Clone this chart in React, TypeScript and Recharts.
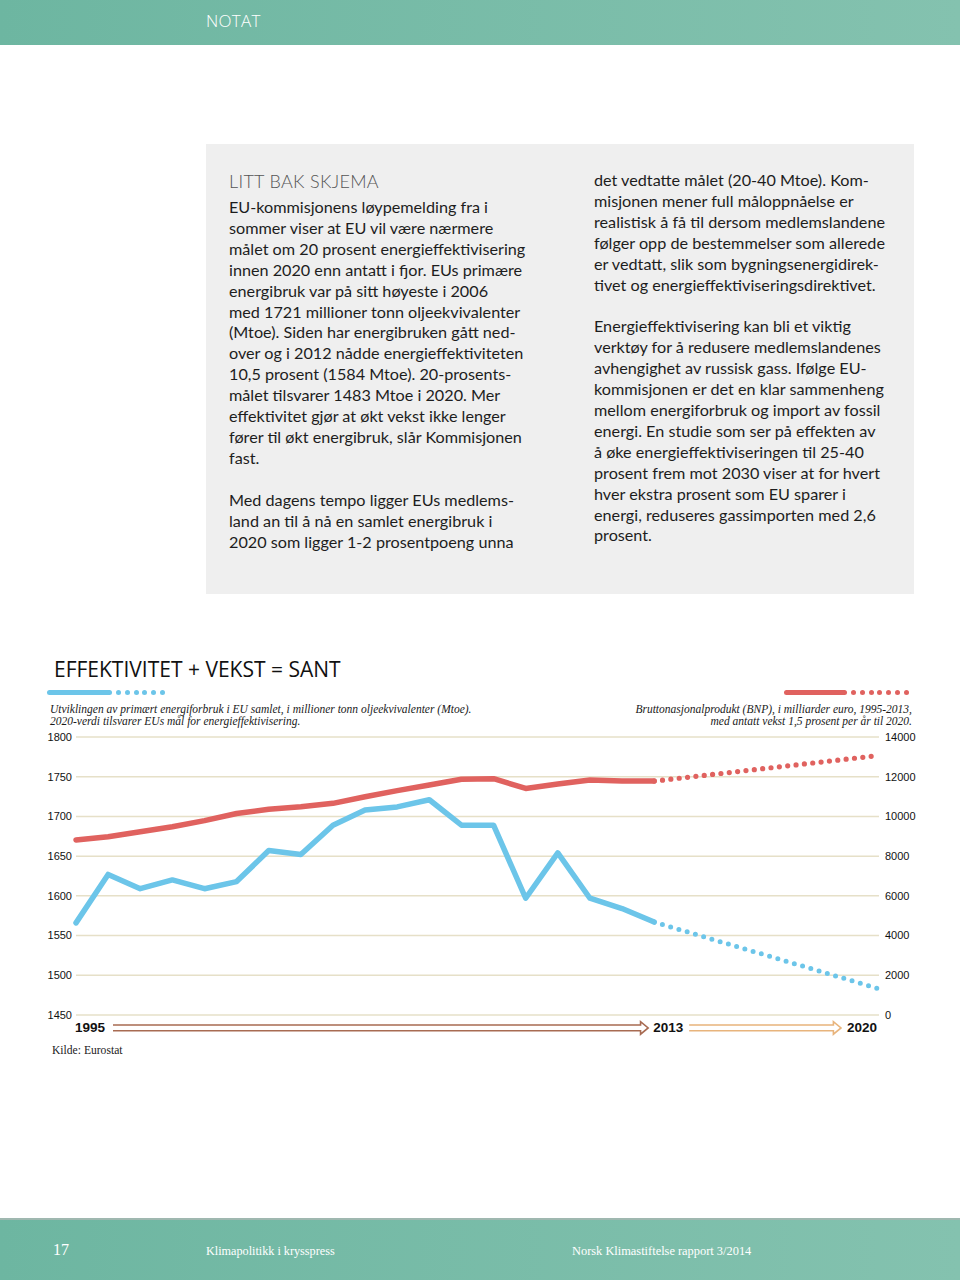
import React from "react";
import {
  LineChart,
  Line,
  XAxis,
  YAxis,
  CartesianGrid,
  ReferenceLine,
} from "recharts";

// EU primary energy (Mtoe) and GDP (bn euro), 1995-2013
const years = [
  1995, 1996, 1997, 1998, 1999, 2000, 2001, 2002, 2003, 2004, 2005, 2006,
  2007, 2008, 2009, 2010, 2011, 2012, 2013,
];
const energy = [
  1566, 1627, 1609, 1620, 1609, 1618, 1657, 1652, 1689, 1708, 1712, 1721,
  1689, 1689, 1597, 1654, 1597, 1584, 1567,
];
const gdp = [
  8810, 8980, 9230, 9480, 9790, 10150, 10360, 10490, 10660, 10990, 11300,
  11580, 11870, 11900, 11410, 11630, 11830, 11780, 11780,
];

// projection 2013 -> 2020
const projYears = [2013, 2020];
const energyTarget = [1567, 1483];
const gdpForecast = [11780, 13070];

const energyTicks = [1450, 1500, 1550, 1600, 1650, 1700, 1750, 1800];
const gdpTicks = [0, 2000, 4000, 6000, 8000, 10000, 12000, 14000];
const yearTicks = [1995, 2013, 2020];

const BLUE = "#6cc5e9";
const RED = "#e0625f";
const GRID = "#e6e0c8";

const rows: any[] = years.map((year, i) => ({ year, energy: energy[i], gdp: gdp[i] }));
projYears.forEach((year, i) => {
  let row = rows.find((r) => r.year === year);
  if (!row) {
    row = { year };
    rows.push(row);
  }
  row.energyProj = energyTarget[i];
  row.gdpProj = gdpForecast[i];
});

const axisFont = "'Liberation Sans', Arial, sans-serif";
const serif = "'Liberation Serif', 'Times New Roman', serif";

const YearTick = (props: any) => {
  const { x, y, payload } = props;
  const last = payload.value === 2020;
  return (
    <text
      x={last ? x - 2 : x - 1}
      y={y}
      dy={17}
      textAnchor={last ? "end" : "start"}
      fontFamily={axisFont}
      fontWeight={700}
      fontSize={13.5}
      fill="#111"
    >
      {payload.value}
    </text>
  );
};

const DoubleArrow = (props: any) => {
  const { x1, x2, y1, color, padL, padR } = props;
  const xs = x1 + padL;
  const tip = x2 - padR;
  const xb = tip - 7.6;
  const y = y1 + 12.9;
  const d = `M${xs},${y - 2.9} L${xb},${y - 2.9} L${xb},${y - 6.3} L${tip},${y} L${xb},${y + 6.3} L${xb},${y + 2.9} L${xs},${y + 2.9}`;
  return <path d={d} fill="none" stroke={color} strokeWidth={1.6} />;
};

const Pill = ({ left, width, color }: any) => (
  <div
    style={{
      position: "absolute",
      left,
      top: 689.5,
      width,
      height: 5,
      borderRadius: 3,
      background: color,
    }}
  />
);

const Dots = ({ left, count, color }: any) => (
  <div style={{ position: "absolute", left, top: 689.5, display: "flex", gap: 3.8 }}>
    {Array.from({ length: count }).map((_, i) => (
      <div key={i} style={{ width: 5, height: 5, borderRadius: 3, background: color }} />
    ))}
  </div>
);

const bodyText: React.CSSProperties = {
  position: "absolute",
  fontFamily: "Lato, sans-serif",
  fontSize: 16.2,
  lineHeight: "20.9px",
  color: "#1d1d1d",
  whiteSpace: "nowrap",
};

const caption: React.CSSProperties = {
  position: "absolute",
  top: 703,
  fontFamily: serif,
  fontStyle: "italic",
  fontSize: 11.5,
  lineHeight: "12px",
  color: "#1a1a1a",
  whiteSpace: "nowrap",
};

export default function App() {
  return (
    <div
      style={{
        position: "absolute",
        left: 0,
        top: 0,
        width: 960,
        height: 1280,
        background: "#fff",
        overflow: "hidden",
      }}
    >
      {/* header */}
      <div
        style={{
          position: "absolute",
          left: 0,
          top: 0,
          width: 960,
          height: 45,
          background: "linear-gradient(90deg, #6db6a1, #84c2af)",
        }}
      />
      <div
        style={{
          position: "absolute",
          left: 206,
          top: 9,
          color: "#fff",
          fontFamily: "'Open Sans', sans-serif",
          fontWeight: 300,
          fontSize: 17,
          letterSpacing: 0.3,
        }}
      >
        NOTAT
      </div>

      {/* text box */}
      <div
        style={{
          position: "absolute",
          left: 206,
          top: 144,
          width: 708,
          height: 450,
          background: "#efefef",
        }}
      />
      <div
        style={{
          position: "absolute",
          left: 229,
          top: 170,
          fontFamily: "Lato, sans-serif",
          fontWeight: 300,
          fontSize: 18,
          color: "#555",
          letterSpacing: 0.3,
        }}
      >
        LITT BAK SKJEMA
      </div>
      <div style={{ ...bodyText, left: 229, top: 197 }}>
        EU-kommisjonens løypemelding fra i<br />
        sommer viser at EU vil være nærmere<br />
        målet om 20 prosent energieffektivisering<br />
        innen 2020 enn antatt i fjor. EUs primære<br />
        energibruk var på sitt høyeste i 2006<br />
        med 1721 millioner tonn oljeekvivalenter<br />
        (Mtoe). Siden har energibruken gått ned-<br />
        over og i 2012 nådde energieffektiviteten<br />
        10,5 prosent (1584 Mtoe). 20-prosents-<br />
        målet tilsvarer 1483 Mtoe i 2020. Mer<br />
        effektivitet gjør at økt vekst ikke lenger<br />
        fører til økt energibruk, slår Kommisjonen<br />
        fast.<br />
        <br />
        Med dagens tempo ligger EUs medlems-<br />
        land an til å nå en samlet energibruk i<br />
        2020 som ligger 1-2 prosentpoeng unna
      </div>
      <div style={{ ...bodyText, left: 594, top: 170 }}>
        det vedtatte målet (20-40 Mtoe). Kom-<br />
        misjonen mener full måloppnåelse er<br />
        realistisk å få til dersom medlemslandene<br />
        følger opp de bestemmelser som allerede<br />
        er vedtatt, slik som bygningsenergidirek-<br />
        tivet og energieffektiviseringsdirektivet.<br />
        <br />
        Energieffektivisering kan bli et viktig<br />
        verktøy for å redusere medlemslandenes<br />
        avhengighet av russisk gass. Ifølge EU-<br />
        kommisjonen er det en klar sammenheng<br />
        mellom energiforbruk og import av fossil<br />
        energi. En studie som ser på effekten av<br />
        å øke energieffektiviseringen til 25-40<br />
        prosent frem mot 2030 viser at for hvert<br />
        hver ekstra prosent som EU sparer i<br />
        energi, reduseres gassimporten med 2,6<br />
        prosent.
      </div>

      {/* chart heading */}
      <div
        style={{
          position: "absolute",
          left: 54,
          top: 655,
          fontFamily: "'Open Sans', sans-serif",
          fontSize: 21,
          color: "#111",
        }}
      >
        EFFEKTIVITET + VEKST = SANT
      </div>
      <Pill left={47} width={65} color={BLUE} />
      <Dots left={116} count={6} color={BLUE} />
      <Pill left={784} width={63} color={RED} />
      <Dots left={851} count={7} color={RED} />
      <div style={{ ...caption, left: 50 }}>
        Utviklingen av primært energiforbruk i EU samlet, i millioner tonn oljeekvivalenter (Mtoe).
        <br />
        2020-verdi tilsvarer EUs mål for energieffektivisering.
      </div>
      <div style={{ ...caption, right: 960 - 912, textAlign: "right" }}>
        Bruttonasjonalprodukt (BNP), i milliarder euro, 1995-2013,
        <br />
        med antatt vekst 1,5 prosent per år til 2020.
      </div>

      <div style={{ position: "absolute", left: 0, top: 727 }}>
        <LineChart
          width={960}
          height={330}
          data={rows}
          margin={{ top: 10, right: 0, bottom: 0, left: 0 }}
        >
          <CartesianGrid
            yAxisId="energy"
            vertical={false}
            stroke={GRID}
            strokeWidth={1.5}
          />
          <XAxis
            dataKey="year"
            type="number"
            domain={[1995, 2020]}
            ticks={yearTicks}
            axisLine={false}
            tickLine={false}
            tickSize={0}
            tickMargin={0}
            height={42}
            tick={<YearTick />}
            interval={0}
          />
          <YAxis
            yAxisId="energy"
            orientation="left"
            domain={[1450, 1800]}
            ticks={energyTicks}
            width={76}
            axisLine={false}
            tickLine={false}
            tickSize={0}
            tickMargin={4}
            interval={0}
            tick={{ fontFamily: axisFont, fontSize: 11, fill: "#111" }}
          />
          <YAxis
            yAxisId="gdp"
            orientation="right"
            domain={[0, 14000]}
            ticks={gdpTicks}
            width={81}
            axisLine={false}
            tickLine={false}
            tickSize={0}
            tickMargin={6}
            interval={0}
            tick={{ fontFamily: axisFont, fontSize: 11, fill: "#111" }}
          />
          <ReferenceLine
            yAxisId="energy"
            ifOverflow="visible"
            segment={[
              { x: 1995, y: 1450 },
              { x: 2013, y: 1450 },
            ]}
            shape={(p: any) => <DoubleArrow {...p} color="#a86b52" padL={37} padR={6} />}
          />
          <ReferenceLine
            yAxisId="energy"
            ifOverflow="visible"
            segment={[
              { x: 2013, y: 1450 },
              { x: 2020, y: 1450 },
            ]}
            shape={(p: any) => <DoubleArrow {...p} color="#e8b47c" padL={35} padR={38} />}
          />
          <Line
            yAxisId="energy"
            dataKey="energy"
            stroke={BLUE}
            strokeWidth={5.5}
            strokeLinecap="round"
            strokeLinejoin="round"
            dot={false}
            activeDot={false}
            isAnimationActive={false}
          />
          <Line
            yAxisId="energy"
            dataKey="energyProj"
            stroke={BLUE}
            strokeWidth={5}
            strokeDasharray="0 8.6"
            strokeLinecap="round"
            dot={false}
            activeDot={false}
            isAnimationActive={false}
          />
          <Line
            yAxisId="gdp"
            dataKey="gdp"
            stroke={RED}
            strokeWidth={5.5}
            strokeLinecap="round"
            strokeLinejoin="round"
            dot={false}
            activeDot={false}
            isAnimationActive={false}
          />
          <Line
            yAxisId="gdp"
            dataKey="gdpProj"
            stroke={RED}
            strokeWidth={5.2}
            strokeDasharray="0 8.4"
            strokeLinecap="round"
            dot={false}
            activeDot={false}
            isAnimationActive={false}
          />
        </LineChart>
      </div>

      <div
        style={{
          position: "absolute",
          left: 52,
          top: 1044,
          fontFamily: serif,
          fontSize: 11.6,
          color: "#222",
        }}
      >
        Kilde: Eurostat
      </div>

      {/* footer */}
      <div
        style={{
          position: "absolute",
          left: 0,
          top: 1218,
          width: 960,
          height: 2,
          background: "#9fb8b0",
        }}
      />
      <div
        style={{
          position: "absolute",
          left: 0,
          top: 1220,
          width: 960,
          height: 60,
          background: "linear-gradient(90deg, #6db6a1, #84c2af)",
          color: "#fff",
          fontFamily: serif,
        }}
      >
        <div style={{ position: "absolute", left: 53, top: 21, fontSize: 16 }}>17</div>
        <div style={{ position: "absolute", left: 206, top: 24, fontSize: 12.2 }}>
          Klimapolitikk i krysspress
        </div>
        <div style={{ position: "absolute", left: 572, top: 24, fontSize: 12.4 }}>
          Norsk Klimastiftelse rapport 3/2014
        </div>
      </div>
    </div>
  );
}
